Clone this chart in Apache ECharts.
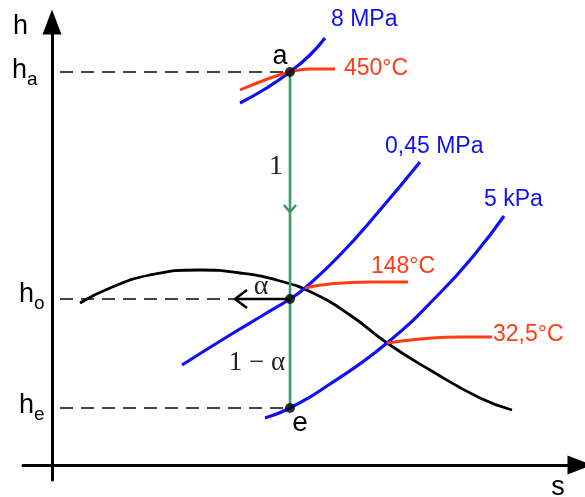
<!DOCTYPE html>
<html>
<head>
<meta charset="utf-8">
<script src="https://cdn.jsdelivr.net/npm/echarts@6/dist/echarts.min.js"></script>
<style>html,body{margin:0;padding:0;background:#fff}#c{width:585px;height:497px}</style>
</head>
<body>
<div id="c"></div>
<script>
// Coordinates: s (entropy, arbitrary units) and h (enthalpy, arbitrary units), origin at axes crossing
const saturation = [[28,162],[58,177],[98,190],[148,195],[188,192],[228,184],[261,172],[298,150],[335,122],[378,95],[428,67],[460,55]];
const isobar8MPa = [[188,362],[213,376],[238,393],[258,410],[273,427]];
const isotherm450 = [[188,375],[213,385],[238,393],[258,396],[283,396]];
const isobar045MPa = [[130,100],[178,130],[213,151],[238,166],[253,177],[288,210],[328,255],[368,303]];
const isotherm148 = [[253,177],[278,181],[318,183],[356,183]];
const isobar5kPa = [[213,47],[238,57],[278,81],[335,122],[388,172],[423,211],[452,249]];
const isotherm325 = [[335,122],[368,126],[408,128],[440,128]];
const pointA = [238,393];
const pointO = [238,166];
const pointE = [238,57];
const dashStartS = 8;
const extractionArrowTipS = 183;
const greenArrowH = 253;
const tickLabels = ['a','o','e'];

const BLUE = '#1010f8', RED = '#ff3c14', GREEN = '#3a9a68', DASH = '#444';

function line(data, color, width, extra) {
  return Object.assign({type:'line', data, symbol:'none', smooth:true, silent:true,
    lineStyle:{color, width}, z:3}, extra||{});
}
function straight(data, color, width, type) {
  return {type:'line', data, symbol:'none', smooth:false, silent:true,
    lineStyle:{color, width, type: type||'solid', dashOffset:0}, z:2};
}
// chevrons (open arrow heads)
const chevronLeft = [[extractionArrowTipS+12,pointO[1]+9],[extractionArrowTipS,pointO[1]],[extractionArrowTipS+12,pointO[1]-9]];
const chevronDown = [[pointA[0]-6,greenArrowH+7],[pointA[0],greenArrowH],[pointA[0]+6,greenArrowH+7]];

const chart = echarts.init(document.getElementById('c'), null, {renderer:'canvas'});
const axisCommon = {
  type:'value', splitLine:{show:false}, axisTick:{show:false}, axisLabel:{show:false},
  axisLine:{show:true, onZero:true, symbol:['none','triangle'], symbolSize:[19,25],
    lineStyle:{color:'#000', width:3}}
};
const font = (size, fam) => size + 'px ' + (fam || '"Liberation Sans", Arial, sans-serif');
function txt(x, y, text, color, size, fam, align) {
  return {type:'text', x, y, silent:true, z:100,
    style:{text, fill:color, font:font(size, fam), align: align||'left', verticalAlign:'middle'}};
}
const SERIF = '"Liberation Serif", "Times New Roman", serif';

chart.setOption({
  animation:false,
  grid:{left:23, right:5, top:22, bottom:17, containLabel:false},
  xAxis:Object.assign({}, axisCommon, {min:-29, max:528}),
  yAxis:Object.assign({}, axisCommon, {min:-15, max:443}),
  series:[
    straight([[dashStartS,pointA[1]],pointA], DASH, 2, [13,8]),
    straight([[dashStartS,pointO[1]],[extractionArrowTipS,pointO[1]]], DASH, 2, [13,8]),
    straight([[dashStartS,pointE[1]],pointE], DASH, 2, [13,8]),
    line(saturation, '#000', 2.8),
    line(isobar8MPa, BLUE, 3.2),
    line(isotherm450, RED, 3),
    line(isobar045MPa, BLUE, 3.2),
    line(isotherm148, RED, 3),
    line(isobar5kPa, BLUE, 3.2),
    line(isotherm325, RED, 3),
    Object.assign(straight([pointA, pointE], GREEN, 2.6), {z:4}),
    Object.assign(straight(chevronDown, GREEN, 2.6), {z:4}),
    Object.assign(straight([pointO,[extractionArrowTipS,pointO[1]]], '#000', 2.6), {z:4}),
    Object.assign(straight(chevronLeft, '#000', 2.6), {z:4}),
    {type:'scatter', data:[pointA, pointO, pointE], symbolSize:10, itemStyle:{color:'#000'}, z:6, silent:true}
  ],
  graphic:[
    txt(13, 27, 'h', '#000', 27),
    txt(558, 488, 's', '#000', 27, null, 'center'),
    txt(12, 71, 'h', '#000', 27), txt(27, 80, 'a', '#000', 19),
    txt(19, 295, 'h', '#000', 27), txt(34, 304, 'o', '#000', 19),
    txt(19, 406, 'h', '#000', 27), txt(34, 415, 'e', '#000', 19),
    txt(280, 57, tickLabels[0], '#000', 27, null, 'center'),
    txt(300, 423, tickLabels[2], '#000', 28, null, 'center'),
    txt(331, 20, '8 MPa', BLUE, 23),
    txt(344, 69, '450°C', RED, 23),
    txt(385, 147, '0,45 MPa', BLUE, 23),
    txt(484, 200, '5 kPa', BLUE, 23),
    txt(371, 267, '148°C', RED, 23),
    txt(493, 335, '32,5°C', RED, 23),
    txt(276, 167, '1', '#222', 28, SERIF, 'center'),
    txt(261, 287, 'α', '#222', 28, SERIF, 'center'),
    txt(257, 363, '1 − α', '#222', 27, SERIF, 'center')
  ]
});
</script>
</body>
</html>
